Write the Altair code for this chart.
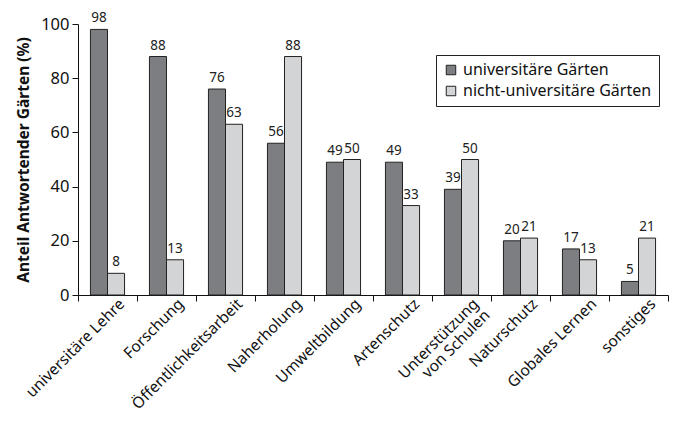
import altair as alt
import pandas as pd

categories = ["universitäre Lehre", "Forschung", "Öffentlichkeitsarbeit", "Naherholung",
              "Umweltbildung", "Artenschutz", "Unterstützung|von Schulen", "Naturschutz",
              "Globales Lernen", "sonstiges"]
series = ["universitäre Gärten", "nicht-universitäre Gärten"]
uni_values = [98, 88, 76, 56, 49, 49, 39, 20, 17, 5]
nonuni_values = [8, 13, 63, 88, 50, 33, 50, 21, 13, 21]
colors = ["#7d7e82", "#d3d4d6"]
y_ticks = [0, 20, 40, 60, 80, 100]

rows = []
for c, a, b in zip(categories, uni_values, nonuni_values):
    rows.append({"cat": c, "serie": series[0], "val": a})
    rows.append({"cat": c, "serie": series[1], "val": b})
df = pd.DataFrame(rows)

FONT = "Noto Sans"

x_enc = alt.X("cat:N", sort=categories,
              scale=alt.Scale(paddingInner=0, paddingOuter=0),
              axis=alt.Axis(title=None, labelAngle=-45, tickBand="extent",
                            labelExpr="split(datum.label, '|')",
                            labelFontSize=15.5, labelColor="#111", labelLineHeight=16,
                            domainColor="#111", tickColor="#111", tickSize=6,
                            labelPadding=-5, labelOffset=9))
xoff = alt.XOffset("serie:N", sort=series,
                   scale=alt.Scale(paddingInner=0, paddingOuter=0.73))
y_enc = alt.Y("val:Q", scale=alt.Scale(domain=[0, 100]),
              axis=alt.Axis(title="Anteil Antwortender Gärten (%)", values=y_ticks,
                            grid=False, labelFontSize=16.5, labelColor="#111",
                            titleFontSize=15.5, titleFontWeight="bold", titleColor="#111",
                            domainColor="#111", tickColor="#111", tickSize=6,
                            labelPadding=3, titlePadding=9))

bars = alt.Chart(df).mark_bar(stroke="#222", strokeWidth=1).encode(
    x=x_enc, xOffset=xoff, y=y_enc,
    color=alt.Color("serie:N", sort=series,
                    scale=alt.Scale(domain=series, range=colors),
                    legend=alt.Legend(title=None, orient="none", legendX=358, legendY=31,
                                      strokeColor="#222", fillColor="white", padding=7,
                                      symbolType="square", symbolSize=90,
                                      symbolStrokeColor="#222", symbolStrokeWidth=1,
                                      labelFontSize=16, labelColor="#111",
                                      rowPadding=5, labelLimit=300)),
)

labels = alt.Chart(df).mark_text(dy=-7, baseline="alphabetic", fontSize=13.5,
                                 color="#222", font=FONT).encode(
    x=alt.X("cat:N", sort=categories), xOffset=xoff, y="val:Q", text="val:Q"
)

chart = (bars + labels).properties(
    width=590, height=271,
    autosize=alt.AutoSizeParams(type="none"),
    padding={"left": 70, "top": 16, "right": 12, "bottom": 121},
).configure(font=FONT).configure_view(stroke=None)

chart.save("out.html", embed_options={"renderer": "svg", "actions": False})
